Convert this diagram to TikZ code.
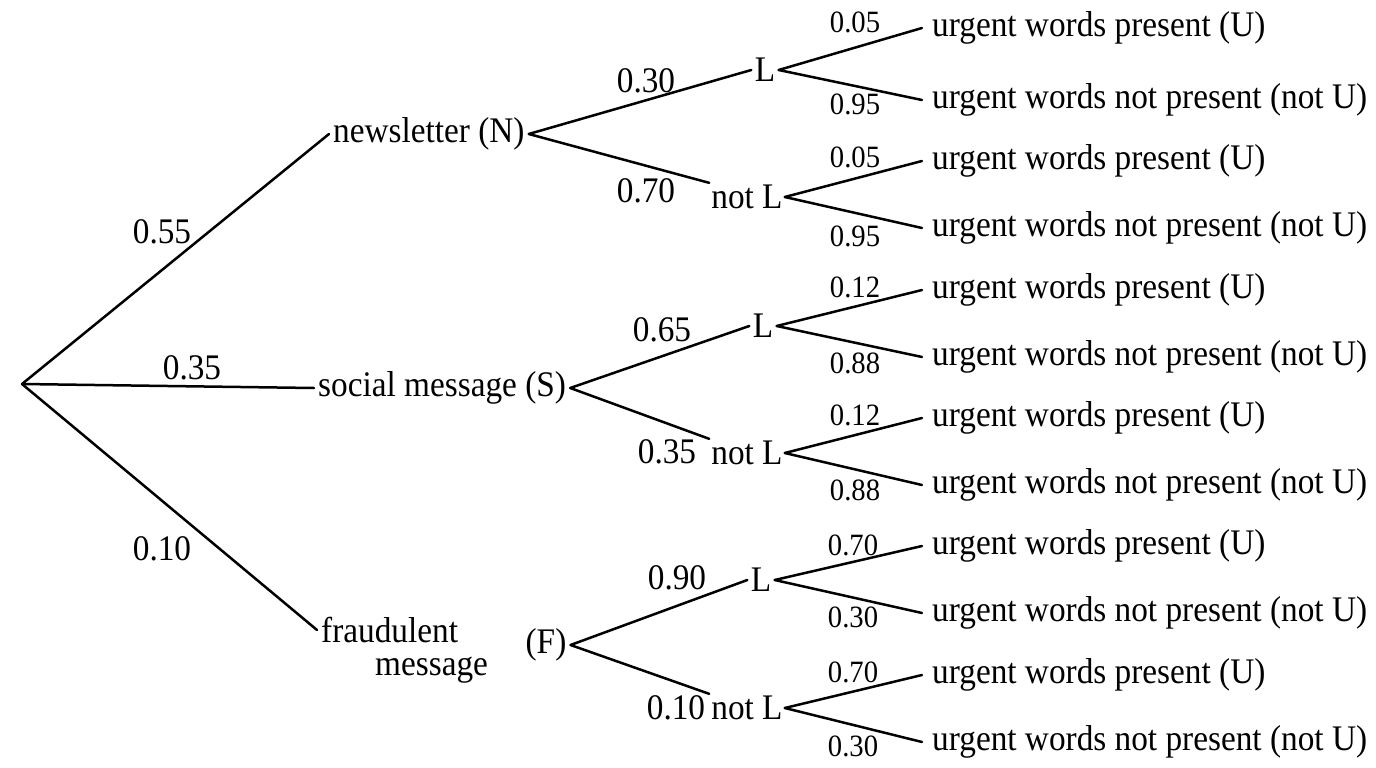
\documentclass[tikz,border=0pt]{standalone}
\usepackage{fontspec}
\setmainfont[FakeStretch=0.925]{Liberation Serif}
\usetikzlibrary{positioning}

\begin{document}
\begin{tikzpicture}[x=1pt, y=-1pt,
    % Stili per il testo
    big/.style={font=\fontsize{36}{40}\selectfont},
    small/.style={font=\fontsize{31}{34}\selectfont},
    first/.style={big, anchor=west, inner sep=4pt},
    lnode/.style={big},
    notlnode/.style={big, inner sep=2pt},
    leaf/.style={big, anchor=west, inner xsep=10pt, inner ysep=2pt},
    prob/.style={big},
    subprob/.style={small},
    % Stili per i rami
    branch/.style={line width=2.5pt, line cap=round}
]
\useasboundingbox (0,0) rectangle (1376,768);

% === RADICE E PRIMO LIVELLO ===
\coordinate (root) at (22,384);
\node[first] (news) at (329,134) {newsletter (N)};
\node[first] (soc) at (314,388) {social message (S)};
\node[first] (fraud) at (317,630) {fraudulent};
\node[first, inner sep=1pt] (fraudm) at (374,670) {message};
\node[big, inner sep=4pt] (fr) at (546,645) {(F)};

\draw[branch] (root) -- (news.west);
\draw[branch] (root) -- (soc.west);
\draw[branch] (root) -- (fraud.west);

\node[prob] (p1) at (162,232) {0.55};
\node[prob] (p2) at (192,368) {0.35};
\node[prob] (p3) at (162,549) {0.10};

% === SECONDO LIVELLO ===
\node[lnode] (nL) at (765,70) {L};
\node[notlnode] (nnL) at (747,197) {not L};
\node[lnode] (sL) at (763,326) {L};
\node[notlnode] (snL) at (747,453) {not L};
\node[lnode] (fL) at (761,580) {L};
\node[notlnode] (fnL) at (747,708) {not L};

\draw[branch] (news.east) -- (nL.west);
\draw[branch] (news.east) -- (nnL.north west);
\draw[branch] (soc.east) -- (sL.west);
\draw[branch] (soc.east) -- (snL.north west);
\draw[branch] (fr.east) -- (fL.west);
\draw[branch] (fr.east) -- (fnL.north west);

\node[prob] (q1) at (646,81) {0.30};
\node[prob] (q2) at (646,191) {0.70};
\node[prob] (q3) at (662,330) {0.65};
\node[prob] (q4) at (667,452) {0.35};
\node[prob] (q5) at (677,578) {0.90};
\node[prob] (q6) at (676,708) {0.10};

% === FOGLIE ===
\node[leaf] (u1) at (922,28) {urgent words present (U)};
\node[leaf] (u2) at (922,100) {urgent words not present (not U)};
\node[leaf] (u3) at (922,161) {urgent words present (U)};
\node[leaf] (u4) at (922,228) {urgent words not present (not U)};
\node[leaf] (u5) at (922,290) {urgent words present (U)};
\node[leaf] (u6) at (922,357) {urgent words not present (not U)};
\node[leaf] (u7) at (922,418) {urgent words present (U)};
\node[leaf] (u8) at (922,485) {urgent words not present (not U)};
\node[leaf] (u9) at (922,546) {urgent words present (U)};
\node[leaf] (u10) at (922,613) {urgent words not present (not U)};
\node[leaf] (u11) at (922,675) {urgent words present (U)};
\node[leaf] (u12) at (922,742) {urgent words not present (not U)};

\draw[branch] (nL.east) -- (u1.west);
\draw[branch] (nL.east) -- (u2.west);
\draw[branch] (nnL.east) -- (u3.west);
\draw[branch] (nnL.east) -- (u4.west);
\draw[branch] (sL.east) -- (u5.west);
\draw[branch] (sL.east) -- (u6.west);
\draw[branch] (snL.east) -- (u7.west);
\draw[branch] (snL.east) -- (u8.west);
\draw[branch] (fL.east) -- (u9.west);
\draw[branch] (fL.east) -- (u10.west);
\draw[branch] (fnL.east) -- (u11.west);
\draw[branch] (fnL.east) -- (u12.west);

\node[subprob] (r1) at (855,22) {0.05};
\node[subprob] (r2) at (855,104) {0.95};
\node[subprob] (r3) at (855,157) {0.05};
\node[subprob] (r4) at (855,236) {0.95};
\node[subprob] (r5) at (855,287) {0.12};
\node[subprob] (r6) at (855,363) {0.88};
\node[subprob] (r7) at (855,415) {0.12};
\node[subprob] (r8) at (855,490) {0.88};
\node[subprob] (r9) at (853,545) {0.70};
\node[subprob] (r10) at (853,617) {0.30};
\node[subprob] (r11) at (853,672) {0.70};
\node[subprob] (r12) at (853,746) {0.30};

\end{tikzpicture}
\end{document}
